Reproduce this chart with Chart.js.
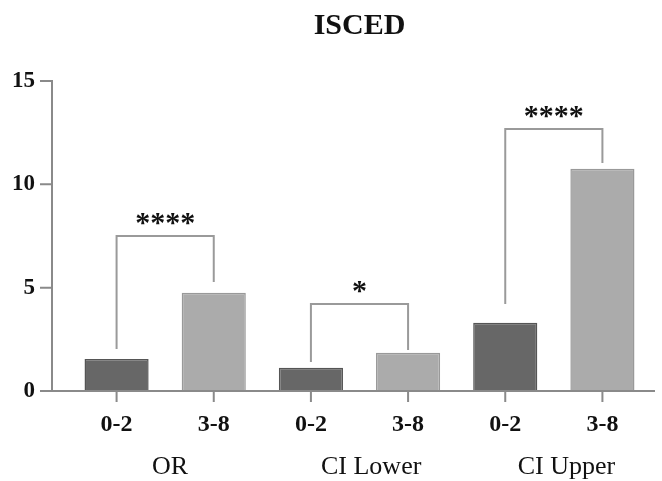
<!DOCTYPE html>
<html>
<head>
<meta charset="utf-8">
<script src="https://cdn.jsdelivr.net/npm/chart.js@4.4.1/dist/chart.umd.min.js"></script>
<style>
  html, body { margin: 0; padding: 0; background: #ffffff; }
  canvas { display: block; }
</style>
</head>
<body>
<canvas id="c" width="662" height="481"></canvas>
<script>
// ---- data ----
const categories = ['0-2', '3-8', '0-2', '3-8', '0-2', '3-8'];
const groups = ['OR', 'CI Lower', 'CI Upper'];
const values = [1.55, 4.75, 1.12, 1.85, 3.30, 10.75];
const yTicks = [0, 5, 10, 15];
// significance brackets (per group): label, bracket top, left leg end, right leg end (in y units)
const sigLabels = ['****', '*', '****'];
const sigTop = [7.5, 4.21, 12.68];
const sigLeftEnd = [2.03, 1.40, 4.21];
const sigRightEnd = [5.27, 1.98, 11.03];

const SERIF = '"Liberation Serif", "DejaVu Serif", serif';
const AXIS_COLOR = '#8a8a8a';

const decor = {
  id: 'decor',
  afterDatasetsDraw(chart) {
    const ctx = chart.ctx;
    const x = chart.scales.x, y = chart.scales.y;
    const axisX = 52;
    const y0 = y.getPixelForValue(0);
    ctx.save();
    ctx.lineCap = 'butt';
    // y axis
    ctx.strokeStyle = AXIS_COLOR;
    ctx.lineWidth = 2;
    ctx.beginPath();
    ctx.moveTo(axisX, y.getPixelForValue(yTicks[yTicks.length - 1]) - 1);
    ctx.lineTo(axisX, y0);
    yTicks.forEach(v => {
      const py = y.getPixelForValue(v);
      ctx.moveTo(axisX - 12, py);
      ctx.lineTo(axisX, py);
    });
    // x axis
    ctx.moveTo(axisX, y0);
    ctx.lineTo(chart.chartArea.right + 4, y0);
    categories.forEach((c, i) => {
      const px = x.getPixelForValue(i);
      ctx.moveTo(px, y0);
      ctx.lineTo(px, y0 + 11);
    });
    ctx.stroke();

    // brackets
    ctx.strokeStyle = '#9a9a9a';
    ctx.lineWidth = 2;
    groups.forEach((g, gi) => {
      const xl = x.getPixelForValue(gi * 2);
      const xr = x.getPixelForValue(gi * 2 + 1);
      const yt = y.getPixelForValue(sigTop[gi]);
      ctx.beginPath();
      ctx.moveTo(xl, y.getPixelForValue(sigLeftEnd[gi]));
      ctx.lineTo(xl, yt);
      ctx.lineTo(xr, yt);
      ctx.lineTo(xr, y.getPixelForValue(sigRightEnd[gi]));
      ctx.stroke();
      // stars
      ctx.fillStyle = '#111';
      ctx.font = 'bold 30px ' + SERIF;
      ctx.textAlign = 'center';
      ctx.textBaseline = 'alphabetic';
      ctx.fillText(sigLabels[gi], (xl + xr) / 2, yt - 4);
    });

    // group labels
    const groupPos = [0.55, 2.62, 4.63];
    ctx.fillStyle = '#111';
    ctx.font = '26px ' + SERIF;
    ctx.textAlign = 'center';
    ctx.textBaseline = 'middle';
    groups.forEach((g, gi) => {
      const p0 = x.getPixelForValue(0), p1 = x.getPixelForValue(1);
      const px = p0 + (p1 - p0) * groupPos[gi];
      ctx.fillText(g, px, 467);
    });
    ctx.restore();
  }
};

new Chart(document.getElementById('c'), {
  type: 'bar',
  data: {
    labels: categories,
    datasets: [{
      data: values,
      backgroundColor: categories.map((c, i) => i % 2 === 0 ? '#676767' : '#ababab'),
      borderColor: categories.map((c, i) => i % 2 === 0 ? '#555555' : '#999999'),
      borderWidth: 1.5,
      barPercentage: 0.66,
      categoryPercentage: 1.0
    }]
  },
  options: {
    responsive: false,
    animation: false,
    layout: { padding: { left: 0, right: 11, top: 0, bottom: 0 } },
    plugins: {
      legend: { display: false },
      tooltip: { enabled: false },
      title: {
        display: true,
        text: 'ISCED',
        fullSize: false,
        color: '#111',
        font: { family: SERIF, size: 30, weight: 'bold' },
        padding: { top: 8, bottom: 37 }
      }
    },
    scales: {
      x: {
        type: 'category',
        grid: { display: false, drawTicks: false },
        border: { display: false },
        ticks: {
          color: '#111',
          padding: 19,
          maxRotation: 0,
          font: { family: SERIF, size: 24, weight: 'bold' }
        },
        afterFit(scale) { scale.height = 90; }
      },
      y: {
        min: 0,
        max: 15,
        grid: { display: false, drawTicks: false },
        border: { display: false },
        ticks: {
          stepSize: 5,
          color: '#111',
          padding: 33,
          font: { family: SERIF, size: 23, weight: 'bold' }
        },
        afterFit(scale) { scale.width = 68; }
      }
    }
  },
  plugins: [decor]
});
</script>
</body>
</html>
